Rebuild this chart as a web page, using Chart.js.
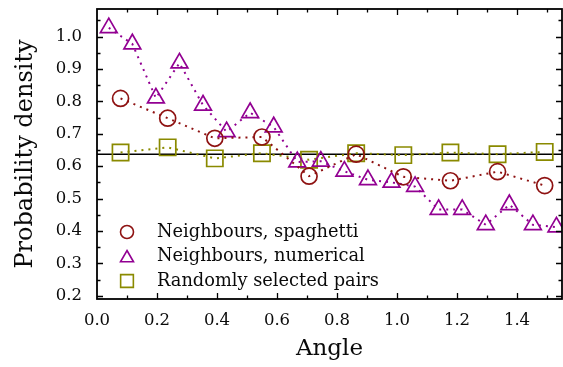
<!DOCTYPE html>
<html>
<head>
<meta charset="utf-8">
<script src="https://cdn.jsdelivr.net/npm/chart.js@4"></script>
<style>
  body { margin: 0; background: #fff; }
  #wrap { width: 563px; height: 367px; }
</style>
</head>
<body>
<div id="wrap"><canvas id="myChart" width="563" height="367"></canvas></div>
<script>
// bin centres (angle)
const angles10 = [0.0785, 0.2356, 0.3927, 0.5498, 0.7069, 0.8639, 1.0210, 1.1781, 1.3352, 1.4923];
const angles20 = [0.0393, 0.1178, 0.1963, 0.2749, 0.3534, 0.4320, 0.5105, 0.5890, 0.6676, 0.7461,
                  0.8247, 0.9032, 0.9817, 1.0603, 1.1388, 1.2174, 1.2959, 1.3744, 1.4530, 1.5315];

// probability density values
const spaghetti = [0.809, 0.748, 0.686, 0.690, 0.569, 0.637, 0.567, 0.555, 0.583, 0.540];
const numerical = [1.027, 0.977, 0.810, 0.918, 0.788, 0.706, 0.765, 0.721, 0.613, 0.615,
                   0.584, 0.558, 0.550, 0.537, 0.466, 0.466, 0.419, 0.481, 0.419, 0.412];
const randomPairs = [0.642, 0.658, 0.624, 0.640, 0.620, 0.640, 0.634, 0.642, 0.637, 0.644];
const uniformLevel = 0.6366;

const xTicks = [0.0, 0.2, 0.4, 0.6, 0.8, 1.0, 1.2, 1.4];
const yTicks = [0.2, 0.3, 0.4, 0.5, 0.6, 0.7, 0.8, 0.9, 1.0];

const labels = ['Neighbours, spaghetti', 'Neighbours, numerical', 'Randomly selected pairs'];

const RED = '#8e1212';
const PURPLE = '#920092';
const OLIVE = '#8a8a00';
const FONT = "'DejaVu Serif', 'Liberation Serif', serif";

function toPoints(xs, ys) {
    return xs.map((x, i) => ({x: x, y: ys[i]}));
}

// frame + inward ticks on all four sides, plus the legend
const framePlugin = {
    id: 'frame',
    afterDatasetsDraw(chart) {
        const {ctx, chartArea: a, scales} = chart;
        const xs = scales.x, ys = scales.y;
        ctx.save();
        ctx.strokeStyle = '#000';
        ctx.lineWidth = 1.3;
        ctx.beginPath();
        for (let v = 0.1; v < 1.56; v += 0.1) {
            const px = Math.round(xs.getPixelForValue(v)) + 0.5;
            const major = Math.abs(v * 5 - Math.round(v * 5)) < 0.01;
            const len = major ? 6 : 3.5;
            ctx.moveTo(px, a.bottom); ctx.lineTo(px, a.bottom - len);
            ctx.moveTo(px, a.top); ctx.lineTo(px, a.top + len);
        }
        for (let v = 0.2; v < 1.09; v += 0.05) {
            const py = Math.round(ys.getPixelForValue(v)) + 0.5;
            const major = Math.abs(v * 10 - Math.round(v * 10)) < 0.01;
            const len = major ? 6 : 3.5;
            ctx.moveTo(a.left, py); ctx.lineTo(a.left + len, py);
            ctx.moveTo(a.right, py); ctx.lineTo(a.right - len, py);
        }
        ctx.stroke();
        ctx.lineWidth = 1.8;
        ctx.strokeRect(a.left, a.top, a.right - a.left, a.bottom - a.top);

        // legend inside the plot
        const styles = ['circle', 'triangle', 'rect'];
        const colors = [RED, PURPLE, OLIVE];
        const radii = [6.5, 7.5, 9];
        ctx.textBaseline = 'middle';
        labels.forEach((t, i) => {
            const y = 232 + i * 24.5;
            ctx.strokeStyle = colors[i];
            ctx.fillStyle = 'rgba(0,0,0,0)';
            ctx.lineWidth = 1.6;
            Chart.helpers.drawPoint(ctx, {pointStyle: styles[i], radius: radii[i], rotation: 0, borderWidth: 1.6}, 127, y + (i === 1 ? 1.5 : 0));
            ctx.font = '17.8px ' + FONT;
            ctx.fillStyle = '#0a0a0a';
            ctx.fillText(t, 157, y);
        });
        ctx.restore();
    }
};

const ctx = document.getElementById('myChart');
const myChart = new Chart(ctx, {
    type: 'line',
    data: {
        datasets: [
            {
                label: labels[0],
                data: toPoints(angles10, spaghetti),
                borderColor: RED,
                borderWidth: 2,
                borderDash: [2, 5],
                pointStyle: 'circle',
                pointRadius: 8,
                pointBorderWidth: 1.7,
                pointBackgroundColor: 'rgba(0,0,0,0)',
                pointBorderColor: RED
            },
            {
                label: labels[1],
                data: toPoints(angles20, numerical),
                borderColor: PURPLE,
                borderWidth: 2,
                borderDash: [2, 5],
                pointStyle: 'triangle',
                pointRadius: 9.7,
                pointBorderWidth: 1.7,
                pointBackgroundColor: 'rgba(0,0,0,0)',
                pointBorderColor: PURPLE
            },
            {
                label: labels[2],
                data: toPoints(angles10, randomPairs),
                borderColor: OLIVE,
                borderWidth: 2,
                borderDash: [2, 5],
                pointStyle: 'rect',
                pointRadius: 11.5,
                pointBorderWidth: 1.7,
                pointBackgroundColor: 'rgba(0,0,0,0)',
                pointBorderColor: OLIVE
            },
            {
                label: 'uniform',
                data: [{x: 0, y: uniformLevel}, {x: 1.6, y: uniformLevel}],
                borderColor: '#000',
                borderWidth: 1.6,
                pointRadius: 0
            }
        ]
    },
    options: {
        responsive: false,
        animation: false,
        layout: { autoPadding: false, padding: { top: 9, right: 1, left: 0, bottom: 0 } },
        scales: {
            x: {
                type: 'linear',
                min: 0,
                max: 1.55,
                afterBuildTicks: s => { s.ticks = xTicks.map(v => ({value: v})); },
                afterFit: s => { s.height = 68; s.paddingLeft = 0; s.paddingRight = 0; },
                grid: { display: false, drawTicks: false },
                border: { display: false },
                ticks: {
                    padding: 12,
                    color: '#0a0a0a',
                    font: { family: FONT, size: 16.5 },
                    callback: v => v.toFixed(1)
                },
                title: {
                    display: true,
                    text: 'Angle',
                    color: '#0a0a0a',
                    font: { family: FONT, size: 23 },
                    padding: { top: 4 }
                }
            },
            y: {
                type: 'linear',
                min: 0.19,
                max: 1.085,
                afterBuildTicks: s => { s.ticks = yTicks.map(v => ({value: v})); },
                afterFit: s => { s.width = 97; s.paddingTop = 0; s.paddingBottom = 0; },
                grid: { display: false, drawTicks: false },
                border: { display: false },
                ticks: {
                    padding: 15,
                    color: '#0a0a0a',
                    font: { family: FONT, size: 16.5 },
                    callback: v => v.toFixed(1)
                },
                title: {
                    display: true,
                    text: 'Probability density',
                    color: '#0a0a0a',
                    font: { family: FONT, size: 24 },
                    padding: { top: 11, bottom: 0 }
                }
            }
        },
        plugins: {
            legend: { display: false },
            tooltip: { enabled: false }
        }
    },
    plugins: [framePlugin]
});
</script>
</body>
</html>
